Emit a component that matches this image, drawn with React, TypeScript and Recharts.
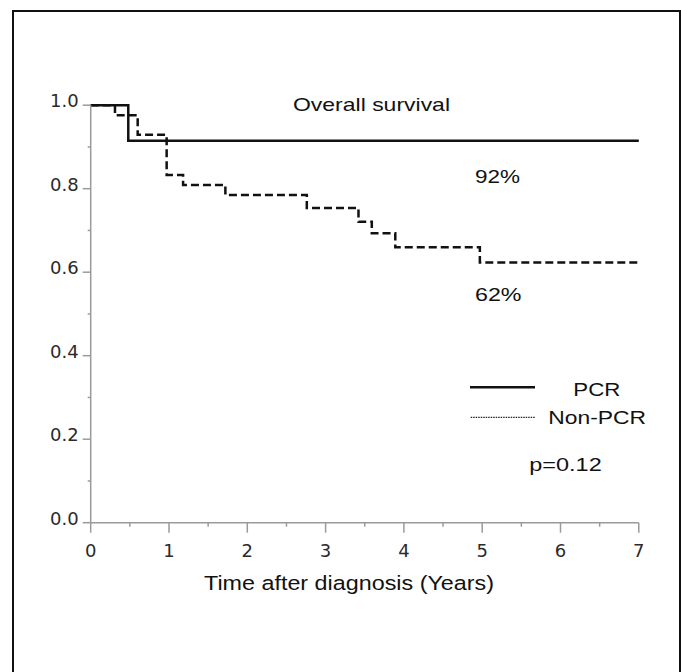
import React from 'react';
import { LineChart, Line, XAxis, YAxis } from 'recharts';

// Kaplan-Meier steps (time in years, survival fraction)
const pcrTimes = [0, 0.48, 7];
const pcrSurvival = [1, 0.915, 0.915];
const nonPcrTimes = [0, 0.31, 0.6, 0.97, 1.18, 1.72, 2.76, 3.42, 3.59, 3.89, 4.97, 7];
const nonPcrSurvival = [1, 0.976, 0.929, 0.833, 0.809, 0.785, 0.754, 0.721, 0.693, 0.66, 0.623, 0.623];

const xTicks = [0, 0.5, 1, 1.5, 2, 2.5, 3, 3.5, 4, 4.5, 5, 5.5, 6, 6.5, 7];
const yTicks = [0, 0.1, 0.2, 0.3, 0.4, 0.5, 0.6, 0.7, 0.8, 0.9, 1];

const pcrData = pcrTimes.map((t, i) => ({ t, s: pcrSurvival[i] }));
const nonPcrData = nonPcrTimes.map((t, i) => ({ t, s: nonPcrSurvival[i] }));

const AXIS = '#9a9a9a';
const TICK_FONT = '"DejaVu Sans", sans-serif';
const TEXT_FONT = '"Liberation Sans", Arial, sans-serif';

const YTick = ({ x, y, payload }: any) => {
  const v = payload.value;
  const major = Math.round(v * 10) % 2 === 0;
  return (
    <g>
      <line x1={x - (major ? 8 : 3)} x2={x} y1={y} y2={y} stroke={AXIS} strokeWidth={1.5} />
      {major && (
        <text x={x - 12} y={y + 2} textAnchor="end" fontFamily={TICK_FONT} fontSize={18} fill="#2a2a2a">
          {v.toFixed(1)}
        </text>
      )}
    </g>
  );
};

const XTick = ({ x, y, payload }: any) => {
  const v = payload.value;
  const major = Number.isInteger(v);
  return (
    <g>
      <line x1={x} x2={x} y1={y} y2={y + (major ? 10 : 4)} stroke={AXIS} strokeWidth={1.5} />
      {major && (
        <text x={x} y={y + 34} textAnchor="middle" fontFamily={TICK_FONT} fontSize={18} fill="#2a2a2a">
          {v}
        </text>
      )}
    </g>
  );
};

const Label = ({ x, y, w, size = 19, children }: any) => (
  <text x={x} y={y} fontFamily={TEXT_FONT} fontSize={size} fill="#111"
    textLength={w} lengthAdjust="spacingAndGlyphs">
    {children}
  </text>
);

export default function App() {
  return (
    <div style={{ position: 'fixed', left: 0, top: 0, width: 681, height: 672, overflow: 'hidden', background: '#fff' }}>
      <div style={{
        position: 'absolute', left: 12, top: 10, width: 669, height: 700,
        boxSizing: 'border-box', border: '2px solid #111'
      }} />
      <div style={{ position: 'absolute', left: 0, top: 0 }}>
        <LineChart width={681} height={672} margin={{ top: 105.2, right: 42.2, bottom: 119.3, left: 30.7 }}>
          <XAxis
            type="number"
            dataKey="t"
            domain={[0, 7]}
            ticks={xTicks}
            interval={0}
            height={30}
            tickSize={0}
            tickMargin={0}
            tickLine={false}
            axisLine={{ stroke: AXIS, strokeWidth: 1.5 }}
            tick={<XTick />}
            allowDuplicatedCategory={false}
          />
          <YAxis
            type="number"
            domain={[0, 1]}
            ticks={yTicks}
            interval={0}
            width={60}
            tickSize={0}
            tickMargin={0}
            tickLine={false}
            axisLine={{ stroke: AXIS, strokeWidth: 1.5 }}
            tick={<YTick />}
          />
          <Line
            data={nonPcrData}
            dataKey="s"
            type="stepAfter"
            stroke="#111"
            strokeWidth={2.5}
            strokeDasharray="8 4"
            dot={false}
            activeDot={false}
            isAnimationActive={false}
          />
          <Line
            data={pcrData}
            dataKey="s"
            type="stepAfter"
            stroke="#111"
            strokeWidth={2.5}
            dot={false}
            activeDot={false}
            isAnimationActive={false}
          />
        </LineChart>
      </div>
      <svg width={681} height={672} style={{ position: 'absolute', left: 0, top: 0, pointerEvents: 'none' }}>
        <Label x={293} y={110.5} w={157}>Overall survival</Label>
        <Label x={475} y={183.3} w={45}>92%</Label>
        <Label x={475} y={300.7} w={46.5}>62%</Label>
        <line x1={470} x2={535} y1={387.3} y2={387.3} stroke="#111" strokeWidth={2.5} />
        <Label x={573.3} y={396} w={47}>PCR</Label>
        <line x1={470.7} x2={535} y1={417.3} y2={417.3} stroke="#222" strokeWidth={1.2} strokeDasharray="1.5 1" />
        <Label x={548.3} y={424} w={97.7}>Non-PCR</Label>
        <Label x={529.3} y={471} w={72.4}>p=0.12</Label>
        <Label x={204} y={590} w={290} size={20.5}>Time after diagnosis (Years)</Label>
      </svg>
    </div>
  );
}
